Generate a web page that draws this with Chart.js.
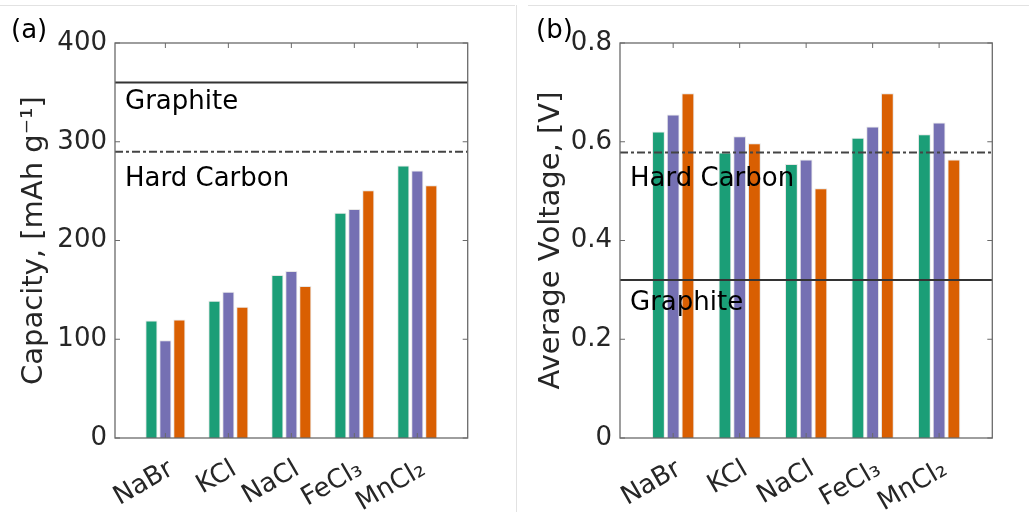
<!DOCTYPE html>
<html>
<head>
<meta charset="utf-8">
<script src="https://cdn.jsdelivr.net/npm/chart.js@4/dist/chart.umd.min.js"></script>
<style>
html,body{margin:0;padding:0;background:#fff;}
body{width:1029px;height:512px;position:relative;overflow:hidden;}
.wrap{position:absolute;top:0;}
#lineTopL{position:absolute;left:0;top:5px;width:515px;height:1px;background:#e2e2e2;}
#lineTopR{position:absolute;left:528px;top:5px;width:501px;height:1px;background:#e2e2e2;}
#lineV{position:absolute;left:516px;top:5px;width:1px;height:507px;background:#e2e2e2;}
</style>
</head>
<body>
<div id="lineTopL"></div><div id="lineTopR"></div><div id="lineV"></div>
<div class="wrap" style="left:0;width:515px;height:512px;"><canvas id="cA" width="515" height="512"></canvas></div>
<div class="wrap" style="left:517px;width:512px;height:512px;"><canvas id="cB" width="512" height="512"></canvas></div>
<script>
// ---------- data ----------
const categories = ['NaBr', 'KCl', 'NaCl', 'FeCl₃', 'MnCl₂'];
const seriesColors = ['#1b9e77', '#7570b3', '#d95f02'];

// (a) Capacity, mAh/g
const capGreen  = [119, 139, 165, 228, 276];
const capPurple = [99, 148, 169, 232, 271];
const capOrange = [120, 133, 154, 251, 256];
const capTicks  = [0, 100, 200, 300, 400];
const capRefNames  = ['Graphite', 'Hard Carbon'];
const capRefValues = [360, 290];

// (b) Average voltage, V
const voltGreen  = [0.621, 0.578, 0.555, 0.608, 0.615];
const voltPurple = [0.655, 0.611, 0.564, 0.631, 0.639];
const voltOrange = [0.698, 0.597, 0.506, 0.698, 0.564];
const voltTicks  = [0, 0.2, 0.4, 0.6, 0.8];
const voltRefNames  = ['Hard Carbon', 'Graphite'];
const voltRefValues = [0.578, 0.32];

const FONT = 'DejaVu Sans';
const TXT = '#262626';

function toPts(arr){ return arr.map((v,i)=>({x:i+1, y:v})); }

const boxPlugin = {
  id: 'boxPlugin',
  afterDatasetsDraw(chart, args, opts){
    const ctx = chart.ctx, a = chart.chartArea;
    const xs = chart.scales.x, ys = chart.scales.y;
    ctx.save();
    opts.refs.forEach(r=>{
      const y = ys.getPixelForValue(r.value);
      ctx.beginPath();
      ctx.strokeStyle = r.color;
      ctx.lineWidth = r.width;
      ctx.setLineDash(r.dash);
      ctx.moveTo(a.left, y); ctx.lineTo(a.right, y);
      ctx.stroke();
      ctx.setLineDash([]);
      ctx.fillStyle = '#000';
      ctx.font = '26px "' + FONT + '"';
      ctx.textAlign = 'left';
      ctx.textBaseline = 'alphabetic';
      ctx.fillText(r.name, a.left + 10, y + r.textDy);
    });
    ctx.strokeStyle = '#6a6a6a';
    ctx.lineWidth = 1.3;
    ctx.strokeRect(a.left, a.top, a.right - a.left, a.bottom - a.top);
    ctx.lineWidth = 1;
    ctx.beginPath();
    const tl = 5;
    ys.ticks.forEach(t=>{
      const y = ys.getPixelForValue(t.value);
      ctx.moveTo(a.left, y); ctx.lineTo(a.left + tl, y);
      ctx.moveTo(a.right, y); ctx.lineTo(a.right - tl, y);
    });
    xs.ticks.forEach(t=>{
      const x = xs.getPixelForValue(t.value);
      ctx.moveTo(x, a.top); ctx.lineTo(x, a.top + tl);
      ctx.moveTo(x, a.bottom); ctx.lineTo(x, a.bottom - tl);
    });
    ctx.stroke();
    ctx.fillStyle = '#000';
    ctx.font = '26px "' + FONT + '"';
    ctx.textAlign = 'left';
    ctx.textBaseline = 'alphabetic';
    ctx.fillText(opts.letter, opts.letterX, opts.letterY);
    ctx.restore();
  }
};

function makeChart(id, g, p, o, ticks, yMax, title, refs, letter, letterX, yWidth, padRight, fmt){
  return new Chart(document.getElementById(id), {
    type: 'bar',
    data: {
      datasets: [g, p, o].map((d, k)=>({
        data: toPts(d),
        backgroundColor: seriesColors[k],
        borderColor: 'rgba(228,228,228,0.9)',
        borderWidth: 1,
        borderSkipped: 'bottom',
        categoryPercentage: 0.665,
        barPercentage: 0.87
      }))
    },
    options: {
      responsive: false,
      animation: false,
      events: [],
      layout: { padding: { top: 43, right: padRight, left: 0, bottom: 0 } },
      plugins: {
        legend: { display: false },
        tooltip: { enabled: false },
        boxPlugin: { refs: refs, letter: letter, letterX: letterX, letterY: 38 }
      },
      scales: {
        x: {
          type: 'linear',
          min: 0.2, max: 5.8,
          offset: false,
          bounds: 'data',
          grid: { display: false, drawTicks: false, offset: false },
          border: { display: false },
          afterBuildTicks: (s)=>{ s.ticks = categories.map((c,i)=>({value:i+1})); },
          afterFit: (s)=>{ s.height = 74; },
          ticks: {
            autoSkip: false,
            includeBounds: false,
            maxRotation: 30, minRotation: 30,
            padding: 16,
            labelOffset: 6,
            color: TXT,
            font: { family: FONT, size: 26 },
            callback: (v)=> categories[Math.round(v)-1] || ''
          }
        },
        y: {
          type: 'linear',
          min: 0, max: yMax,
          grid: { display: false, drawTicks: false },
          border: { display: false },
          afterBuildTicks: (s)=>{ s.ticks = ticks.map(v=>({value:v})); },
          afterFit: (s)=>{ s.width = yWidth; },
          ticks: {
            padding: 8,
            color: TXT,
            font: { family: FONT, size: 26 },
            callback: fmt
          },
          title: {
            display: true,
            text: title,
            color: TXT,
            font: { family: FONT, size: 29 },
            padding: { top: 17, bottom: 0 }
          }
        }
      }
    },
    plugins: [boxPlugin]
  });
}

const capRefs = [
  { name: capRefNames[0], value: capRefValues[0], color: '#333333', width: 2, dash: [], textDy: 26 },
  { name: capRefNames[1], value: capRefValues[1], color: '#444444', width: 2, dash: [8,3,3,3], textDy: 34 }
];
const voltRefs = [
  { name: voltRefNames[0], value: voltRefValues[0], color: '#444444', width: 2, dash: [8,3,3,3], textDy: 33 },
  { name: voltRefNames[1], value: voltRefValues[1], color: '#333333', width: 2, dash: [], textDy: 30 }
];

makeChart('cA', capGreen, capPurple, capOrange, capTicks, 400,
  'Capacity, [mAh g⁻¹]', capRefs, '(a)', 11, 115, 47.3, (v)=>String(v));
makeChart('cB', voltGreen, voltPurple, voltOrange, voltTicks, 0.8,
  'Average Voltage, [V]', voltRefs, '(b)', 19, 103, 36.7, (v)=> v === 0 ? '0' : v.toFixed(1));
</script>
</body>
</html>
